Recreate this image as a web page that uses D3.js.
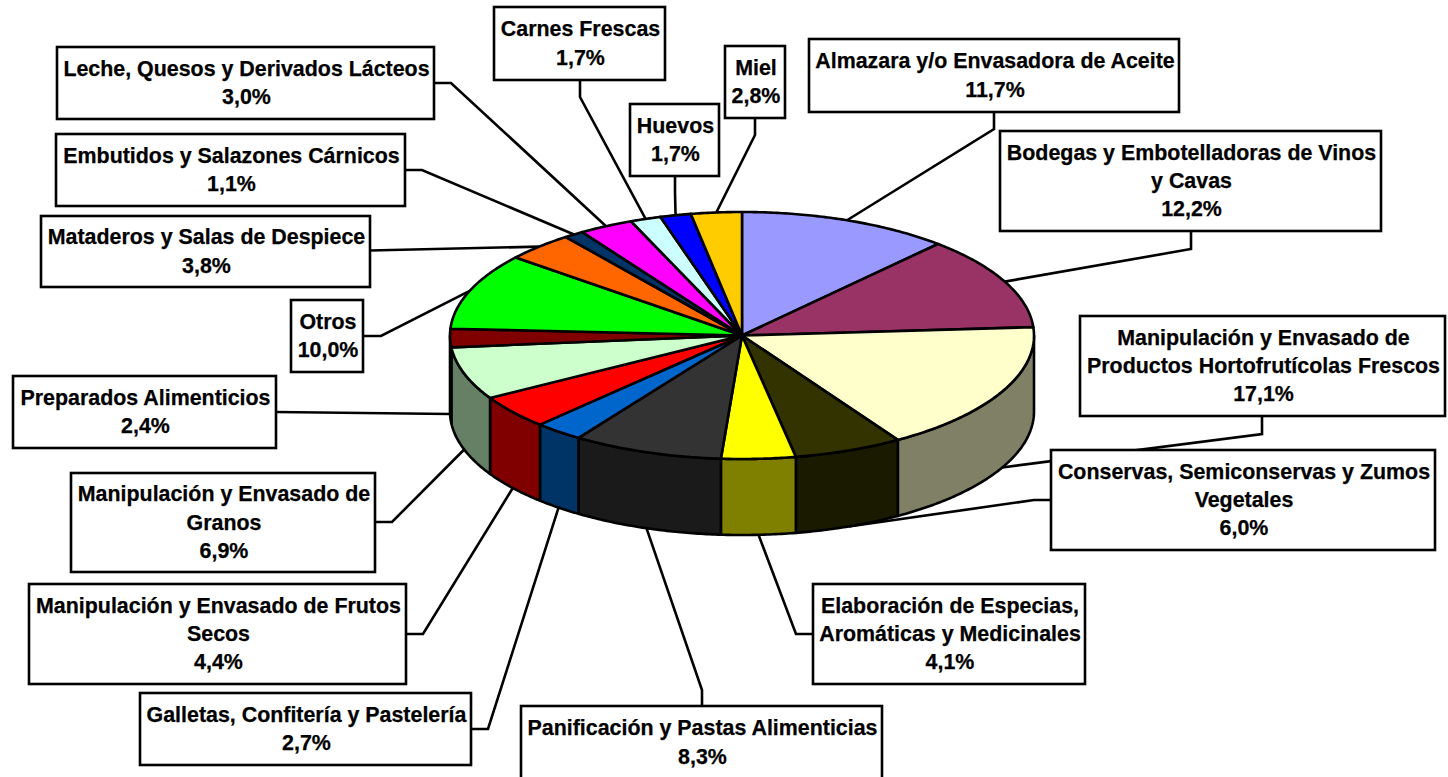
<!DOCTYPE html>
<html lang="es">
<head>
<meta charset="utf-8">
<script src="https://cdn.jsdelivr.net/npm/d3@7/dist/d3.min.js"></script>
<style>
html,body{margin:0;padding:0;background:#fff;overflow:hidden}
svg{display:block}
text{font-family:"Liberation Sans",Arial,sans-serif;font-weight:bold;font-size:21.4px;fill:#000;stroke:#000;stroke-width:.25px;text-anchor:middle;dominant-baseline:central}
</style>
</head>
<body>
<svg id="c" width="1448" height="777"></svg>
<script>
// --- data ---
const categories = [
  "Almazara y/o Envasadora de Aceite",
  "Bodegas y Embotelladoras de Vinos|y Cavas",
  "Manipulación y Envasado de|Productos Hortofrutícolas Frescos",
  "Conservas, Semiconservas y Zumos|Vegetales",
  "Elaboración de Especias,|Aromáticas y Medicinales",
  "Panificación y Pastas Alimenticias",
  "Galletas, Confitería y Pastelería",
  "Manipulación y Envasado de Frutos|Secos",
  "Manipulación y Envasado de|Granos",
  "Preparados Alimenticios",
  "Otros",
  "Mataderos y Salas de Despiece",
  "Embutidos y Salazones Cárnicos",
  "Leche, Quesos y Derivados Lácteos",
  "Carnes Frescas",
  "Huevos",
  "Miel"
];
const values = [11.7,12.2,17.1,6.0,4.1,8.3,2.7,4.4,6.9,2.4,10.0,3.8,1.1,3.0,1.7,1.7,2.8];
const colors = ["#9999FF","#993366","#FFFFCC","#333300","#FFFF00","#333333","#0066CC","#FF0000","#CCFFCC","#800000","#00FF00","#FF6600","#003366","#FF00FF","#CCFFFF","#0000FF","#FFCC00"];

// --- layout (label boxes: x0,y0,x1,y1; side the leader leaves from; elbow) ---
const boxLayout = [
  [809,39,1179,112,"b",[994,129]],
  [1000,131,1381,231,"b",[1191,249]],
  [1080,316,1445,416,"b",[1262,434]],
  [1051,450,1435,550,"l",[1034,500]],
  [813,584,1085,684,"l",[796,634]],
  [521,706,882,779,"t",[702,690]],
  [140,693,471,765,"r",[488,729]],
  [29,584,406,684,"r",[423,634]],
  [71,473,375,572,"r",[392,522]],
  [13,376,276,448,"r",null],
  [291,300,363,372,"r",[381,336]],
  [41,216,370,287,"r",null],
  [56,134,405,206,"r",[422,170]],
  [57,47,434,119,"r",[451,83]],
  [494,7,665,80,"b",[580,97]],
  [630,104,719,176,"b",[675,192]],
  [725,46,785,118,"b",[755,135]]
];

const cx = 742, cy = 335.5, rx = 292, ry = 123.5, depth = 76;
const lineStep = 28.2, strokeW = 2.6, textShift = 1;

const svg = d3.select("#c");
const X = d3.scaleLinear().domain([-1,1]).range([cx-rx,cx+rx]);
const Y = d3.scaleLinear().domain([-1,1]).range([cy-ry,cy+ry]);
const rim = a => [X(Math.sin(a)), Y(-Math.cos(a))];

const slices = d3.pie().sort(null).value(d=>d)(values);
const fmt = v => v.toFixed(1).replace(".",",") + "%";
const line = d3.line();
const arcPts = (a0,a1,dy=0) => {
  const n = Math.max(2, Math.ceil((a1-a0)/0.01));
  return d3.range(n+1).map(i=>{
    const p = rim(a0+(a1-a0)*i/n); return [p[0],p[1]+dy];
  });
};

// leaders
const frontWall = a => Math.sin(a) < 0.999 && Math.cos(a) < 0.05;
svg.append("g").selectAll("path").data(slices).join("path")
  .attr("fill","none").attr("stroke","#000").attr("stroke-width",strokeW)
  .attr("d",(s,i)=>{
    const b = boxLayout[i], mid = (s.startAngle+s.endAngle)/2;
    const p = rim(mid); if(frontWall(mid)) p[1]+=depth;
    const e = b[5], side = b[4];
    const ex = e ? e[0] : p[0], ey = e ? e[1] : p[1];
    let start;
    if(side==="b") start=[ex,b[3]];
    else if(side==="t") start=[ex,b[1]];
    else if(side==="l") start=[b[0],ey];
    else start=[b[2], e ? ey : (b[1]+b[3])/2 + (i===11?-1:0)];
    return line(e ? [start,e,p] : [start,p]);
  });

// walls
const walls = svg.append("g");
slices.forEach((s,i)=>{
  const a0 = Math.max(s.startAngle, Math.PI/2), a1 = Math.min(s.endAngle, 3*Math.PI/2);
  if(a1<=a0) return;
  const c = d3.rgb(colors[i]);
  const pts = arcPts(a0,a1).concat(arcPts(a0,a1,depth).reverse());
  walls.append("path").attr("d",line(pts)+"Z")
    .attr("fill",d3.rgb(c.r/2,c.g/2,c.b/2).formatHex())
    .attr("stroke","#000").attr("stroke-width",strokeW).attr("stroke-linejoin","round");
});

// top
svg.append("g").selectAll("path").data(slices).join("path")
  .attr("d",s=>line([[cx,cy],...arcPts(s.startAngle,s.endAngle)])+"Z")
  .attr("fill",(s,i)=>colors[i])
  .attr("stroke","#000").attr("stroke-width",strokeW).attr("stroke-linejoin","round");

// label boxes
const labels = svg.append("g").selectAll("g").data(categories).join("g");
labels.append("rect")
  .attr("x",(d,i)=>boxLayout[i][0]).attr("y",(d,i)=>boxLayout[i][1])
  .attr("width",(d,i)=>boxLayout[i][2]-boxLayout[i][0])
  .attr("height",(d,i)=>boxLayout[i][3]-boxLayout[i][1])
  .attr("fill","#fff").attr("stroke","#000").attr("stroke-width",strokeW);
labels.each(function(d,i){
  const b = boxLayout[i], rows = d.split("|").concat(fmt(values[i]));
  const mx=(b[0]+b[2])/2+textShift, my=(b[1]+b[3])/2;
  d3.select(this).selectAll("text").data(rows).join("text")
    .attr("x",mx)
    .attr("y",(r,k)=>my+(k-(rows.length-1)/2)*lineStep)
    .text(r=>r);
});
</script>
</body>
</html>
